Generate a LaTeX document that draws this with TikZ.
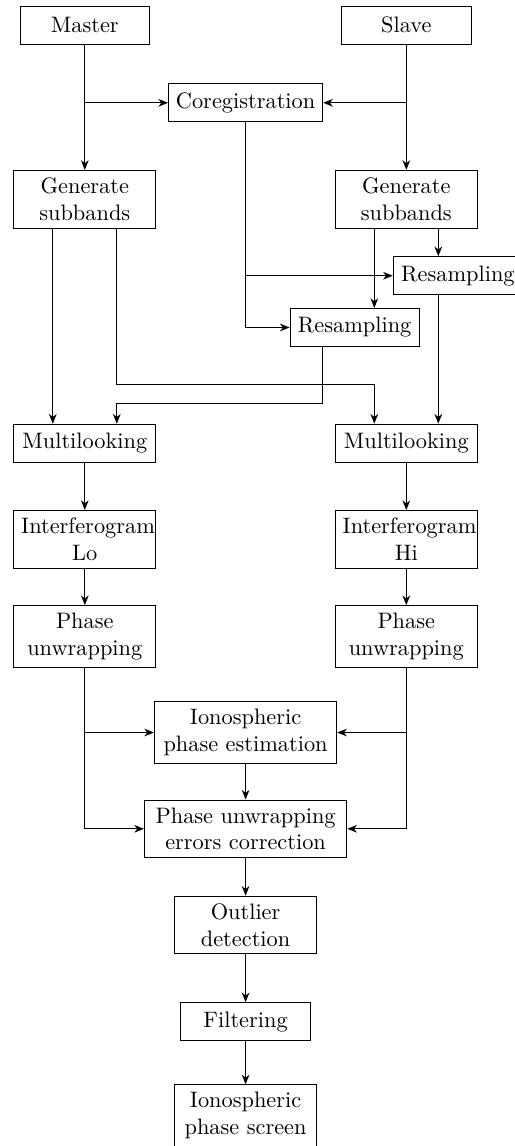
\documentclass[tikz,border=0pt]{standalone}
\usetikzlibrary{arrows.meta,calc}
\begin{document}
\begin{tikzpicture}[x=0.4474pt,y=-0.4474pt,
  box/.style={draw,thin,align=center,minimum height=0.6cm,inner sep=0.3333em},
  wA/.style={box,text width=2cm},
  wB/.style={box,text width=1.8cm},
  arr/.style={-{Stealth[length=4.3pt,width=3.4pt,inset=1.3pt]},semithick}]
\useasboundingbox (0,0) rectangle (515,1146);
\node[wB] (master) at (84.8,25.2) {Master};
\node[wB] (slave) at (406.3,25.2) {Slave};
\node[box] (coreg) at (245.6,102.8) {Coregistration};
\node[wA] (gsl) at (84.8,199.2) {Generate\\subbands};
\node[wA] (gsr) at (406.3,199.2) {Generate\\subbands};
\node[wB] (resR) at (457.9,275.7) {Resampling};
\node[wB] (resL) at (354.7,327.5) {Resampling};
\node[wA] (mll) at (84.8,443.2) {Multilooking};
\node[wA] (mlr) at (406.3,443.2) {Multilooking};
\node[wA] (ifl) at (84.8,539.3) {Interferogram\\Lo};
\node[wA] (ifr) at (406.3,539.3) {Interferogram\\Hi};
\node[wA] (pul) at (84.8,636.5) {Phase\\unwrapping};
\node[wA] (pur) at (406.3,636.5) {Phase\\unwrapping};
\node[box,text width=74.9pt] (ipe) at (245.6,732.5) {Ionospheric\\phase estimation};
\node[box,text width=83.9pt] (puec) at (245.6,828.8) {Phase unwrapping\\errors correction};
\node[wA] (outl) at (245.6,925) {Outlier\\detection};
\node[wB] (filt) at (245.6,1021.7) {Filtering};
\node[wA] (ips) at (245.6,1115.6) {Ionospheric\\phase screen};

\coordinate (gslL) at ($(gsl.south)+(-32,0)$);
\coordinate (gslR) at ($(gsl.south)+(32,0)$);
\coordinate (gsrL) at ($(gsr.south)+(-32,0)$);
\coordinate (gsrR) at ($(gsr.south)+(32,0)$);
\coordinate (mllL) at ($(mll.north)+(-32,0)$);
\coordinate (mllR) at ($(mll.north)+(32,0)$);
\coordinate (mlrL) at ($(mlr.north)+(-32,0)$);
\coordinate (mlrR) at ($(mlr.north)+(32,0)$);
\coordinate (resLo) at ($(resL.south)+(-32,0)$);
\coordinate (ya) at (0,384.7);
\coordinate (yb) at (0,403.3);

\draw[arr] (master) -- (gsl);
\draw[arr] (master |- coreg) -- (coreg.west);
\draw[arr] (slave) -- (gsr);
\draw[arr] (slave |- coreg) -- (coreg.east);
\draw[arr] (coreg.south) |- (resL.west);
\draw[arr] (coreg.south |- resR.west) -- (resR.west);
\draw[arr] (gsrR) -- (gsrR |- resR.north);
\draw[arr] (gsrL) -- (gsrL |- resL.north);
\draw[arr] (gslL) -- (mllL);
\draw[arr] (gslR) -- (gslR |- ya) -| (mlrL);
\draw[arr] (resLo) -- (resLo |- yb) -| (mllR);
\draw[arr] (mlrR |- resR.south) -- (mlrR);
\draw[arr] (mll) -- (ifl);
\draw[arr] (ifl) -- (pul);
\draw[arr] (mlr) -- (ifr);
\draw[arr] (ifr) -- (pur);
\draw[arr] (pul.south) |- (puec.west);
\draw[arr] (pul.south |- ipe.west) -- (ipe.west);
\draw[arr] (pur.south) |- (puec.east);
\draw[arr] (pur.south |- ipe.east) -- (ipe.east);
\draw[arr] (ipe) -- (puec);
\draw[arr] (puec) -- (outl);
\draw[arr] (outl) -- (filt);
\draw[arr] (filt) -- (ips);
\end{tikzpicture}
\end{document}
